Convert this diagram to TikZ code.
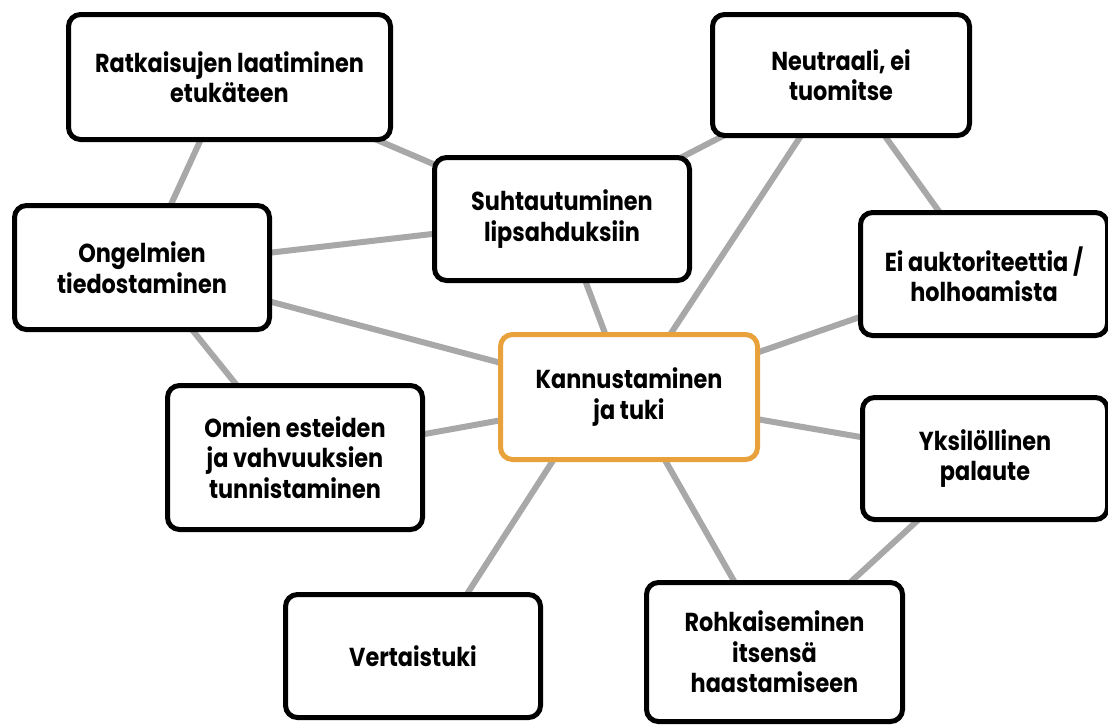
\documentclass[tikz,border=0pt]{standalone}
\usepackage{fontspec}
\setmainfont{Poppins}[FakeStretch=0.86]
\usetikzlibrary{backgrounds}
\definecolor{linkgray}{HTML}{A8A8A8}
\definecolor{keyorange}{HTML}{E9A23B}
\tikzset{
  box/.style={draw=black, line width=5pt, rounded corners=12pt, fill=white,
    align=center, inner sep=0pt, text=black,
    font={\fontsize{26}{30.5}\selectfont\bfseries}},
  keybox/.style={box, draw=keyorange},
  link/.style={draw=linkgray, line width=6pt}
}
\begin{document}
\begin{tikzpicture}[x=1pt,y=-1pt]
\useasboundingbox (0,0) rectangle (1108,726);
\node[box, minimum width=322pt, minimum height=125pt] (ratk) at (229.5,77) {Ratkaisujen laatiminen\\etukäteen};
\node[box, minimum width=257pt, minimum height=121pt] (neut) at (841,75) {Neutraali, ei\\tuomitse};
\node[box, minimum width=255pt, minimum height=123pt] (suht) at (562,219) {Suhtautuminen\\lipsahduksiin};
\node[box, minimum width=255pt, minimum height=124pt] (ong) at (142,267.5) {Ongelmien\\tiedostaminen};
\node[box, minimum width=247pt, minimum height=123pt] (ei) at (984,274) {Ei auktoriteettia /\\holhoamista};
\node[keybox, minimum width=257pt, minimum height=125pt] (kann) at (629,397) {Kannustaminen\\ja tuki};
\node[box, minimum width=255pt, minimum height=144pt] (omien) at (295,457.5) {Omien esteiden\\ja vahvuuksien\\tunnistaminen};
\node[box, minimum width=245pt, minimum height=122pt] (yks) at (985,458.5) {Yksilöllinen\\palaute};
\node[box, minimum width=255pt, minimum height=123pt] (vert) at (413,656) {Vertaistuki};
\node[box, minimum width=256pt, minimum height=139pt] (rohk) at (774.5,652) {Rohkaiseminen\\itsensä\\haastamiseen};
\coordinate (kannv) at (594,397);
\coordinate (vertk) at (427,656);
\begin{scope}[on background layer]
\draw[link] (ratk.center) -- (suht.center);
\draw[link] (ratk.center) -- (ong.center);
\draw[link] (neut.center) -- (suht.center);
\draw[link] (ong.center) -- (suht.center);
\draw[link] (ong.center) -- (kann.center);
\draw[link] (ong.center) -- (omien.center);
\draw[link] (suht.center) -- (kann.center);
\draw[link] (neut.center) -- (kann.center);
\draw[link] (neut.center) -- (ei.center);
\draw[link] (ei.center) -- (kann.center);
\draw[link] (kann.center) -- (omien.center);
\draw[link] (kann.center) -- (yks.center);
\draw[link] (kannv) -- (vertk);
\draw[link] (kann.center) -- (rohk.center);
\draw[link] (yks.center) -- (rohk.center);
\end{scope}
\end{tikzpicture}
\end{document}
